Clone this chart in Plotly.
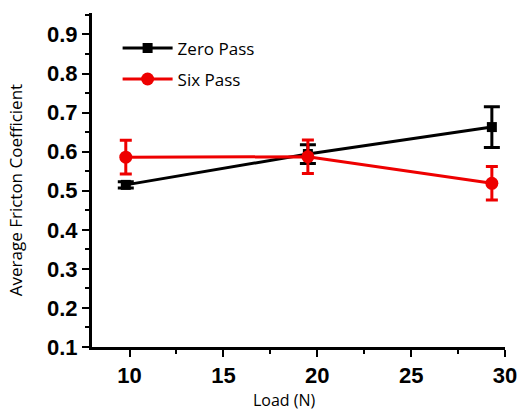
import plotly.graph_objects as go

load_zero = [9.8, 19.5, 29.3]
zero_pass = [0.515, 0.594, 0.663]
zero_err = [0.008, 0.024, 0.052]

load_six = [9.8, 19.5, 29.3]
six_pass = [0.586, 0.587, 0.519]
six_err = [0.043, 0.043, 0.043]

x_ticks = [10, 15, 20, 25, 30]
y_ticks = [0.1, 0.2, 0.3, 0.4, 0.5, 0.6, 0.7, 0.8, 0.9]

fig = go.Figure()
fig.add_trace(go.Scatter(
    x=load_zero, y=zero_pass, name="Zero Pass", mode="lines+markers", legendgroup="a",
    line=dict(color="black", width=3),
    marker=dict(symbol="square", size=10, color="black"),
    error_y=dict(type="data", array=zero_err, color="black", thickness=3, width=8),
))
fig.add_trace(go.Scatter(
    x=load_six, y=six_pass, name="Six Pass", mode="lines+markers", legendgroup="b",
    line=dict(color="#ee0000", width=3),
    marker=dict(symbol="circle", size=13, color="#ee0000"),
    error_y=dict(type="data", array=six_err, color="#ee0000", thickness=3, width=6),
))

tickfont = dict(family="Liberation Sans, Arial", size=22, color="black", weight="bold")
fig.update_layout(
    width=519, height=412,
    margin=dict(l=92, r=14, t=13, b=65),
    paper_bgcolor="white", plot_bgcolor="white",
    showlegend=True,
    legend=dict(x=0.062, y=0.948, xanchor="left", yanchor="top",
                font=dict(family="Open Sans", size=17, color="black"),
                bgcolor="rgba(0,0,0,0)", itemwidth=50, tracegroupgap=6),
    xaxis=dict(range=[8, 30], tickvals=x_ticks, ticks="outside", ticklen=7, tickwidth=2,
               showline=True, linewidth=3, linecolor="black", showgrid=False, zeroline=False,
               tickfont=tickfont, tickcolor="black", automargin=False,
               minor=dict(dtick=2.5, tick0=0, ticks="outside", ticklen=4, tickwidth=2, tickcolor="black")),
    yaxis=dict(range=[0.1, 0.955], tickvals=y_ticks, ticktext=[f"{v:.1f}" for v in y_ticks],
               ticks="outside", ticklen=7, tickwidth=2,
               showline=True, linewidth=3, linecolor="black", showgrid=False, zeroline=False,
               tickfont=tickfont, tickcolor="black", automargin=False,
               minor=dict(dtick=0.05, tick0=0.1, ticks="outside", ticklen=4, tickwidth=2, tickcolor="black")),
    annotations=[
        dict(text="Load (N)", x=0.465, y=-0.158, xref="paper", yref="paper",
             xanchor="center", yanchor="middle", showarrow=False,
             font=dict(family="Open Sans", size=16, color="black")),
        dict(text="Average Fricton Coefficient", x=-0.186, y=0.47, xref="paper", yref="paper",
             xanchor="center", yanchor="middle", textangle=-90, showarrow=False,
             font=dict(family="Open Sans", size=17, color="black")),
    ],
)
fig.write_html("out.html", config={"displayModeBar": False},
               post_script="document.body.style.margin='0px';")
